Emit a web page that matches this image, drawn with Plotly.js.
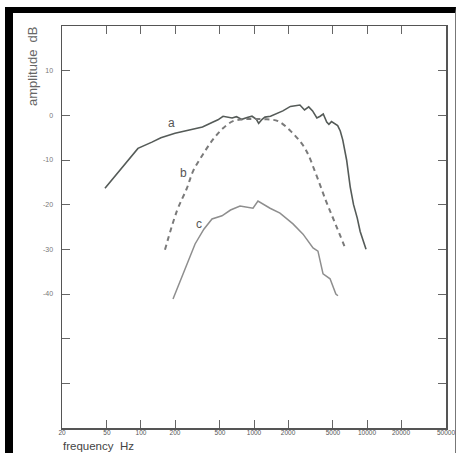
<!DOCTYPE html>
<html><head><meta charset="utf-8">
<script src="https://cdn.plot.ly/plotly-3.0.1.min.js"></script>
<style>
html,body{margin:0;padding:0;background:#fff;}
#wrap{position:relative;width:458px;height:453px;overflow:hidden;}
#chart{position:absolute;left:0;top:0;width:458px;height:453px;}
#frame{position:absolute;left:5px;top:7px;width:442px;height:460px;border-left:8px solid #000;border-top:6px solid #000;border-right:1px solid #777;pointer-events:none;}
</style></head>
<body><div id="wrap"><div id="chart"></div><div id="frame"></div></div>
<script>
// curve a (solid)
const freqA = [48, 94, 125, 150, 200, 250, 300, 350, 425, 480, 532, 600, 640, 700, 780, 870, 960, 1050, 1100, 1180, 1250, 1400, 1600, 1800, 2100, 2300, 2550, 2800, 3050, 3300, 3600, 3850, 4100, 4400, 4600, 4850, 5200, 5500, 5800, 6100, 6600, 7100, 7600, 8200, 8700, 9300, 9800];
const ampA  = [-16.3, -7.4, -6.0, -5.0, -4.0, -3.5, -3.1, -2.6, -1.6, -1.0, -0.2, -0.4, -0.6, -0.3, -0.9, -0.5, -0.2, -0.9, -1.8, -0.9, -0.4, -0.2, 0.5, 1.0, 2.0, 2.1, 2.3, 1.2, 1.9, 1.0, -0.6, -0.2, 0.3, -1.5, -2.0, -1.4, -2.0, -2.3, -3.5, -5.5, -10, -16, -20, -23, -26, -28, -30];
// curve b (dashed)
const freqB = [163, 208, 255, 289, 354, 434, 532, 652, 800, 1000, 1300, 1633, 2125, 2826, 3540, 4340, 5210, 6510];
const ampB  = [-30.1, -21.4, -16.3, -12.5, -8.7, -5.4, -2.9, -1.3, -0.9, -0.8, -0.9, -1.3, -3.6, -7.4, -13.2, -19.2, -24.1, -30.1];
// curve c (solid, light)
const freqC = [192, 240, 301, 360, 425, 521, 620, 752, 870, 980, 1084, 1202, 1387, 1698, 2213, 2716, 3330, 3680, 4083, 4710, 5300, 5530];
const ampC  = [-41.1, -35, -28.8, -25.5, -23.2, -22.5, -21.2, -20.3, -20.6, -20.8, -19.2, -19.9, -20.8, -21.9, -24.3, -26.6, -29.7, -30.4, -35.5, -36.6, -40.0, -40.4];
// curve labels
const labelText = ['a', 'b', 'c'];
const labelFreq = [188, 240, 326];
const labelAmp  = [-1.8, -12.9, -24.3];
// ticks
const xTickVals = [20, 50, 100, 200, 500, 1000, 2000, 5000, 10000, 20000, 50000];
const xTickText = ['20', '50', '100', '200', '500', '1000', '2000', '5000', '10000', '20000', '50000'];
const yTickVals = [10, 0, -10, -20, -30, -40, -50, -60];
const yTickText = ['10', '0', '-10', '-20', '-30', '-40', '', ''];

const traces = [
  {x: freqA, y: ampA, mode: 'lines', line: {color: '#555b58', width: 1.6}, hoverinfo: 'skip'},
  {x: freqB, y: ampB, mode: 'lines', line: {color: '#7a7a7a', width: 2, dash: '5px,4px', shape: 'spline'}, hoverinfo: 'skip'},
  {x: freqC, y: ampC, mode: 'lines', line: {color: '#8e8e8e', width: 1.5}, hoverinfo: 'skip'}
];

const annotations = labelText.map((t, i) => ({
  x: Math.log10(labelFreq[i]), y: labelAmp[i], xref: 'x', yref: 'y', text: t,
  showarrow: false, font: {family: 'Liberation Sans, Arial', size: 12, color: '#555'}
}));
annotations.push({
  x: -0.0755, y: 1.005, xref: 'paper', yref: 'paper', text: 'amplitude  dB', textangle: -90,
  xanchor: 'center', yanchor: 'top', showarrow: false,
  font: {family: 'Liberation Sans, Arial', size: 13, color: '#666'}
});
annotations.push({
  x: 0, y: -0.062, xref: 'paper', yref: 'paper', text: 'frequency  Hz',
  xanchor: 'left', yanchor: 'bottom', showarrow: false, borderpad: 0,
  font: {family: 'Liberation Sans, Arial', size: 11.5, color: '#444'}
});

const layout = {
  width: 458, height: 453,
  margin: {l: 62, r: 12, t: 26, b: 25},
  paper_bgcolor: '#fff', plot_bgcolor: '#fff',
  showlegend: false,
  font: {family: 'Liberation Sans, Arial', color: '#555'},
  xaxis: {
    type: 'log', range: [Math.log10(20), Math.log10(50000)],
    tickvals: xTickVals, ticktext: xTickText,
    ticks: 'inside', ticklen: 8, tickcolor: '#666', tickwidth: 1,
    showline: true, linecolor: '#555', linewidth: 1.5, mirror: 'ticks',
    showgrid: false, zeroline: false,
    tickfont: {size: 6.5, color: '#555'},
    ticklabelstandoff: -2
  },
  yaxis: {
    range: [-70, 20],
    tickvals: yTickVals, ticktext: yTickText,
    ticks: 'inside', ticklen: 8, tickcolor: '#666', tickwidth: 1,
    showline: true, linecolor: '#555', linewidth: 1.5, mirror: 'ticks',
    showgrid: false, zeroline: false,
    tickfont: {size: 7, color: '#777'},
    ticklabelstandoff: 6
  },
  annotations: annotations
};

Plotly.newPlot('chart', traces, layout, {staticPlot: true, displayModeBar: false});
</script></body></html>
